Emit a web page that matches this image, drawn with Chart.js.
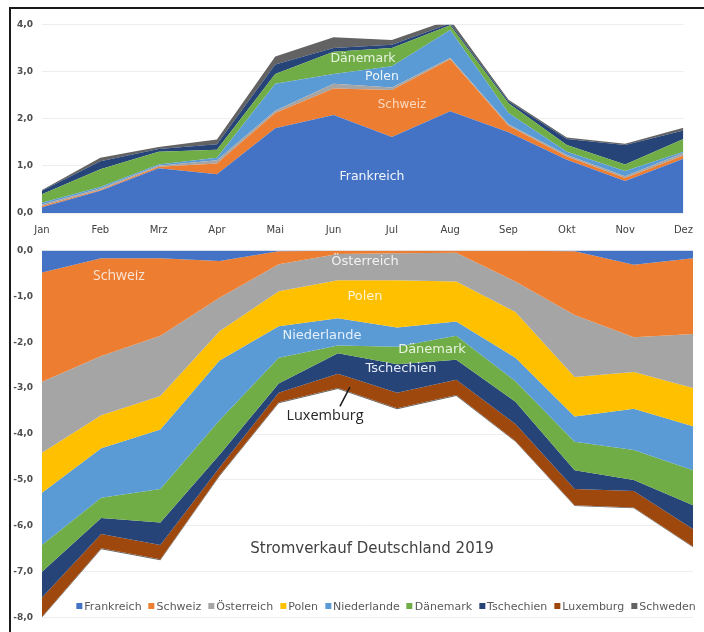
<!DOCTYPE html>
<html><head><meta charset="utf-8">
<script src="https://cdn.jsdelivr.net/npm/chart.js@4/dist/chart.umd.min.js"></script>
<style>
html,body{margin:0;padding:0;background:#fff;}
#wrap{position:relative;width:704px;height:632px;overflow:hidden;background:#fff;font-family:'DejaVu Sans',sans-serif;}
#frame{position:absolute;left:9px;top:7px;width:720px;height:700px;border-top:2px solid #1a1a1a;border-left:2px solid #1a1a1a;}
canvas{position:absolute;}
.lbl{position:absolute;transform:translate(-50%,-50%);white-space:nowrap;font-family:'DejaVu Sans',sans-serif;}
#legend{position:absolute;left:386px;top:600px;transform:translateX(-50%);display:flex;gap:7px;font-size:11px;color:#595959;white-space:nowrap;}
#legend span.m{display:inline-block;width:6px;height:6px;margin-right:2px;vertical-align:1px;}
</style></head>
<body><div id="wrap">
<div id="frame"></div>
<canvas id="top" width="694" height="229" style="left:10px;top:10px;width:694px;height:229px"></canvas>
<canvas id="bot" width="694" height="396" style="left:10px;top:236px;width:694px;height:396px"></canvas>
<div id="labels"></div>
<div id="legend"></div>
</div>
<script>
// ---- data ----
const months = ['Jan','Feb','Mrz','Apr','Mai','Jun','Jul','Aug','Sep','Okt','Nov','Dez'];
const yTicksTop = [0,1,2,3,4];
const yTicksBot = [0,-1,-2,-3,-4,-5,-6,-7,-8];

// Stromkauf (Import)
const impFrankreich  = [0.12,0.47,0.95,0.82,1.80,2.08,1.61,2.16,1.71,1.13,0.68,1.15];
const impSchweiz     = [0.03,0.02,0.03,0.23,0.32,0.56,1.00,1.10,0.14,0.07,0.06,0.07];
const impOesterreich = [0.03,0.03,0.02,0.07,0.05,0.10,0.05,0.03,0.03,0.03,0.04,0.05];
const impPolen       = [0.04,0.03,0.03,0.05,0.57,0.21,0.45,0.59,0.24,0.07,0.11,0.03];
const impDaenemark   = [0.18,0.38,0.27,0.17,0.21,0.47,0.39,0.10,0.21,0.14,0.14,0.27];
const impTschechien  = [0.07,0.17,0.06,0.12,0.20,0.08,0.07,0.04,0.04,0.13,0.41,0.18];
const impSchweden    = [0.02,0.07,0.04,0.10,0.17,0.23,0.10,0.08,0.03,0.03,0.03,0.06];

// Stromverkauf (Export)
const expFrankreich  = [-0.48,-0.17,-0.17,-0.23,-0.02,-0.01,-0.01,-0.01,-0.01,-0.02,-0.31,-0.17];
const expSchweiz     = [-2.38,-2.13,-1.69,-0.80,-0.28,-0.07,-0.05,-0.04,-0.67,-1.39,-1.58,-1.65];
const expOesterreich = [-1.55,-1.29,-1.31,-0.73,-0.59,-0.57,-0.59,-0.63,-0.66,-1.35,-0.76,-1.18];
const expPolen       = [-0.87,-0.72,-0.73,-0.64,-0.76,-0.83,-1.03,-0.87,-1.00,-0.86,-0.80,-0.83];
const expNiederlande = [-1.14,-1.08,-1.30,-1.30,-0.69,-0.59,-0.42,-0.31,-0.51,-0.55,-0.90,-0.96];
const expDaenemark   = [-0.58,-0.44,-0.73,-0.75,-0.56,-0.17,-0.38,-0.52,-0.45,-0.62,-0.65,-0.76];
const expTschechien  = [-0.56,-0.35,-0.49,-0.28,-0.20,-0.45,-0.62,-0.44,-0.48,-0.41,-0.24,-0.52];
const expLuxemburg   = [-0.42,-0.31,-0.31,-0.17,-0.21,-0.31,-0.34,-0.33,-0.37,-0.35,-0.36,-0.38];
const expSchweden    = [-0.02,-0.02,-0.02,-0.02,-0.02,-0.02,-0.02,-0.02,-0.02,-0.02,-0.02,-0.02];

const C = {
  Frankreich:'#4472C4', Schweiz:'#ED7D31', Oesterreich:'#A5A5A5', Polen:'#FFC000',
  Niederlande:'#5B9BD5', Daenemark:'#70AD47', Tschechien:'#264478', Luxemburg:'#9E480E', Schweden:'#636363'
};

function ds(label, data, color, first){
  return {label, data, backgroundColor:color, borderColor:color, borderWidth:0,
    pointRadius:0, pointHoverRadius:0, tension:0, fill: first ? 'origin' : '-1'};
}
const fmt = v => v.toFixed(1).replace('.', ',');

const topSets = [
  ds('Frankreich', impFrankreich, C.Frankreich, true),
  ds('Schweiz', impSchweiz, C.Schweiz),
  ds('Österreich', impOesterreich, C.Oesterreich),
  ds('Polen', impPolen, C.Niederlande),
  ds('Dänemark', impDaenemark, C.Daenemark),
  ds('Tschechien', impTschechien, C.Tschechien),
  ds('Schweden', impSchweden, C.Schweden)
];
const botSets = [
  ds('Frankreich', expFrankreich, C.Frankreich, true),
  ds('Schweiz', expSchweiz, C.Schweiz),
  ds('Österreich', expOesterreich, C.Oesterreich),
  ds('Polen', expPolen, C.Polen),
  ds('Niederlande', expNiederlande, C.Niederlande),
  ds('Dänemark', expDaenemark, C.Daenemark),
  ds('Tschechien', expTschechien, C.Tschechien),
  ds('Luxemburg', expLuxemburg, C.Luxemburg),
  ds('Schweden', expSchweden, C.Schweden)
];

const tickFont = {family:'DejaVu Sans', size:9, weight:'bold'};

new Chart(document.getElementById('top'), {
  type:'line',
  data:{labels:months, datasets:topSets},
  options:{
    responsive:false, animation:false, devicePixelRatio:1,
    layout:{padding:{top:9, right:11, left:0, bottom:0}},
    plugins:{legend:{display:false}, tooltip:{enabled:false}},
    elements:{line:{borderWidth:0}},
    scales:{
      x:{grid:{display:false, drawTicks:false}, border:{display:false},
         ticks:{padding:11, color:'#404040', font:{family:'DejaVu Sans', size:10}, maxRotation:0, autoSkip:false},
         afterFit:s=>{s.height=26;}},
      y:{stacked:true, min:0, max:4,
         afterBuildTicks:s=>{s.ticks = yTicksTop.map(v=>({value:v}));},
         grid:{color:'#eeeeee', drawTicks:false}, border:{display:false},
         ticks:{padding:9, color:'#4d4d4d', font:tickFont, callback:v=>fmt(v)},
         afterFit:s=>{s.width=32;}}
    }
  }
});

const callout = {
  id:'callout',
  afterDatasetsDraw(chart){
    const xs = chart.scales.x, ys = chart.scales.y, ctx = chart.ctx;
    ctx.save();
    ctx.strokeStyle = '#1a1a1a'; ctx.lineWidth = 1.5;
    ctx.beginPath();
    ctx.moveTo(xs.getPixelForValue(5)+12, ys.getPixelForValue(-2.98));
    ctx.lineTo(xs.getPixelForValue(5)+2, ys.getPixelForValue(-3.40));
    ctx.stroke();
    ctx.restore();
  }
};

new Chart(document.getElementById('bot'), {
  type:'line',
  data:{labels:months, datasets:botSets},
  plugins:[callout],
  options:{
    responsive:false, animation:false, devicePixelRatio:1,
    layout:{padding:{top:6, right:11, left:0, bottom:4}},
    plugins:{legend:{display:false}, tooltip:{enabled:false}},
    scales:{
      x:{display:false},
      y:{stacked:true, min:-8, max:0,
         afterBuildTicks:s=>{s.ticks = yTicksBot.map(v=>({value:v}));},
         grid:{color:'#eeeeee', drawTicks:false}, border:{display:false},
         ticks:{padding:9, color:'#4d4d4d', font:tickFont, callback:v=>fmt(v)},
         afterFit:s=>{s.width=32;}}
    }
  }
});

// in-chart labels
const labels = [
  ['Frankreich',372,175,12.5,'#f2f6fc'],
  ['Schweiz',402,104,12,'#fbd9c0'],
  ['Polen',382,75,12.5,'#eef5fb'],
  ['Dänemark',363,57,12.5,'#e8f3e0'],
  ['Schweiz',119,274,14,'#fbe5d6','Open Sans'],
  ['Österreich',365,260,13,'#f2f2f2'],
  ['Polen',365,295,13,'#fff5d6'],
  ['Niederlande',322,334,13,'#e6f0fa'],
  ['Dänemark',432,348,13,'#e8f3e0'],
  ['Tschechien',401,367,13,'#e6ecf7'],
  ['Luxemburg',325,414,14.5,'#262626','Open Sans'],
  ['Stromverkauf Deutschland 2019',372,548,15,'#404040']
];
const lw = document.getElementById('labels');
labels.forEach(([t,x,y,s,c,f])=>{
  const d = document.createElement('div');
  d.className='lbl'; d.textContent=t;
  d.style.left=x+'px'; d.style.top=y+'px'; d.style.fontSize=s+'px'; d.style.color=c;
  if(f) d.style.fontFamily=f;
  lw.appendChild(d);
});

// legend
const lg = document.getElementById('legend');
botSets.forEach(d=>{
  const it = document.createElement('div');
  it.innerHTML = '<span class="m" style="background:'+d.backgroundColor+'"></span>'+d.label;
  lg.appendChild(it);
});
</script>
</body></html>
